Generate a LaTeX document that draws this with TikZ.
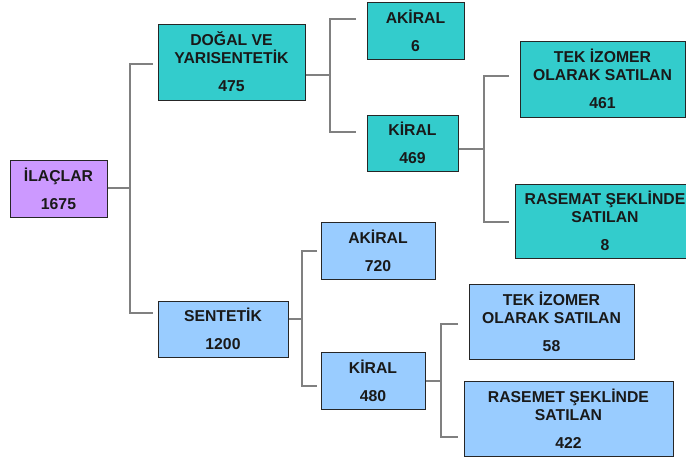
\documentclass[tikz,border=0pt]{standalone}
\usepackage{fontspec}
\setmainfont{Liberation Sans}
\usetikzlibrary{positioning}
\definecolor{tealfill}{RGB}{51,204,204}
\definecolor{bluefill}{RGB}{153,204,255}
\definecolor{lilacfill}{RGB}{204,153,255}
\definecolor{linkgray}{RGB}{128,128,128}

\begin{document}
\begin{tikzpicture}[x=1pt, y=-1pt, font=\fontsize{15.75}{18}\selectfont\bfseries]
\tikzstyle{box}=[draw=black!85, line width=1pt, align=center, inner sep=0pt, text=black!90]
\tikzstyle{link}=[draw=linkgray, line width=1.1pt]
\useasboundingbox (0,0) rectangle (686,461);
\clip (0,0) rectangle (686,461);
% boxes
\node[box, fill=lilacfill, minimum width=97, minimum height=57] (ilac) at (58.5,188.5) {İLAÇLAR\\[10pt]1675};
\node[box, fill=tealfill, minimum width=147, minimum height=76] (dogal) at (231.5,62) {DOĞAL VE\\YARISENTETİK\\[10pt]475};
\node[box, fill=bluefill, minimum width=130, minimum height=56] (sent) at (223,329) {SENTETİK\\[10pt]1200};
\node[box, fill=tealfill, minimum width=97, minimum height=57] (akir1) at (415.5,30.5) {AKİRAL\\[10pt]6};
\node[box, fill=tealfill, minimum width=91, minimum height=56] (kir1) at (412.5,143) {KİRAL\\[10pt]469};
\node[box, fill=tealfill, minimum width=165, minimum height=76] (tek1) at (602.5,79) {TEK İZOMER\\OLARAK SATILAN\\[10pt]461};
\node[box, fill=tealfill, minimum width=180, minimum height=74] (ras1) at (605,221) {RASEMAT ŞEKLİNDE\\SATILAN\\[10pt]8};
\node[box, fill=bluefill, minimum width=114, minimum height=57] (akir2) at (378,250.5) {AKİRAL\\[10pt]720};
\node[box, fill=bluefill, minimum width=104, minimum height=57] (kir2) at (373,380.5) {KİRAL\\[10pt]480};
\node[box, fill=bluefill, minimum width=165, minimum height=75] (tek2) at (551.5,321.5) {TEK İZOMER\\OLARAK SATILAN\\[10pt]58};
\node[box, fill=bluefill, minimum width=209, minimum height=75] (ras2) at (568.5,418.5) {RASEMET ŞEKLİNDE\\SATILAN\\[10pt]422};
% junctions
\coordinate (j-ilac) at (130,188);
\coordinate (j-dogal) at (330,75);
\coordinate (j-sent) at (302,319);
\coordinate (j-kir1) at (484,149);
\coordinate (j-kir2) at (441,381);
% stub ends
\coordinate (to-dogal) at (153,64);
\coordinate (to-sent) at (153,313);
\coordinate (to-akir1) at (356,19);
\coordinate (to-kir1) at (356,132);
\coordinate (to-tek1) at (509,76);
\coordinate (to-ras1) at (509,222);
\coordinate (to-akir2) at (317,251);
\coordinate (to-kir2) at (317,386);
\coordinate (to-tek2) at (458,324);
\coordinate (to-ras2) at (458,437);
% connectors
\draw[link] (ilac.east |- j-ilac) -- (j-ilac);
\draw[link] (to-dogal) -| (j-ilac) |- (to-sent);
\draw[link] (dogal.east |- j-dogal) -- (j-dogal);
\draw[link] (to-akir1) -| (j-dogal) |- (to-kir1);
\draw[link] (kir1.east |- j-kir1) -- (j-kir1);
\draw[link] (to-tek1) -| (j-kir1) |- (to-ras1);
\draw[link] (sent.east |- j-sent) -- (j-sent);
\draw[link] (to-akir2) -| (j-sent) |- (to-kir2);
\draw[link] (kir2.east |- j-kir2) -- (j-kir2);
\draw[link] (to-tek2) -| (j-kir2) |- (to-ras2);
\end{tikzpicture}
\end{document}
